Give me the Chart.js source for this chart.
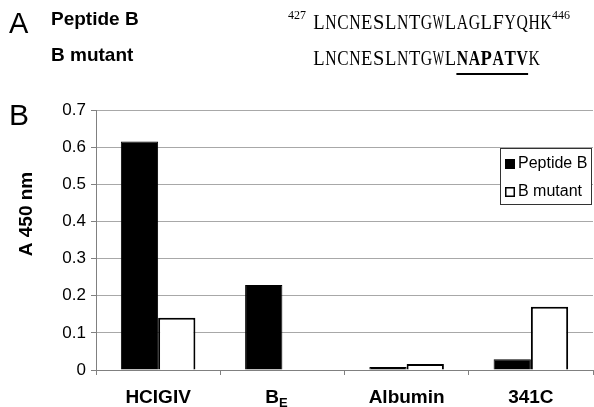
<!DOCTYPE html>
<html>
<head>
<meta charset="utf-8">
<script src="https://cdn.jsdelivr.net/npm/chart.js@4/dist/chart.umd.min.js"></script>
<style>
  html, body { margin: 0; padding: 0; background: #fff; }
  #wrap { width: 594px; height: 407px; position: relative; }
</style>
</head>
<body>
<div id="wrap"><canvas id="c" width="594" height="407"></canvas></div>
<script>
// ELISA absorbance at 450 nm for each serum / antibody
const categories = ['HCIGIV', 'B|E', 'Albumin', '341C'];
const seriesNames = ['Peptide B', 'B mutant'];
const peptideB = [0.615, 0.229, 0.008, 0.029];
const bMutant = [0.141, 0, 0.016, 0.170];
const yTicks = [0, 0.1, 0.2, 0.3, 0.4, 0.5, 0.6, 0.7];
const yTitle = 'A 450 nm';

// Panel A sequence text
const seqStart = '427';
const seqEnd = '446';
const seqWild = 'LNCNESLNTGWLAGLFYQHK';
const seqMutPrefix = 'LNCNESLNTGWL';
const seqMutCore = 'NAPATV';
const seqMutSuffix = 'K';

const SANS = '"Liberation Sans", Arial, sans-serif';
const SERIF = '"Liberation Serif", "DejaVu Serif", serif';
const CELL = 11.95; // fixed advance per residue letter

// Draws a string as fixed-width serif type, squeezing wide glyphs into their cell
function drawFixed(ctx, text, x, y, font) {
  ctx.save();
  ctx.font = font;
  ctx.textAlign = 'center';
  ctx.textBaseline = 'alphabetic';
  for (let i = 0; i < text.length; i++) {
    const ch = text[i];
    const w = ctx.measureText(ch).width;
    const maxW = CELL - 0.6;
    const sx = w > maxW ? maxW / w : 1;
    ctx.save();
    ctx.translate(x + CELL * (i + 0.5), y);
    ctx.scale(sx, 1);
    ctx.fillText(ch, 0, 0);
    ctx.restore();
  }
  ctx.restore();
  return text.length * CELL;
}

const panelText = {
  id: 'panelText',
  afterDraw(chart) {
    const ctx = chart.ctx;
    ctx.save();
    ctx.fillStyle = '#000';
    ctx.textBaseline = 'alphabetic';
    ctx.textAlign = 'left';

    // Panel letters
    ctx.font = '29px ' + SANS;
    ctx.fillText('A', 9, 33);
    ctx.font = '30px ' + SANS;
    ctx.fillText('B', 9, 125);

    // Row labels
    ctx.font = 'bold 19px ' + SANS;
    ctx.fillText(seriesNames[0], 51, 25);
    ctx.fillText(seriesNames[1], 51, 61);

    // Sequences
    const x0 = 313;
    const reg = '21px ' + SERIF;
    const bold = 'bold 21px ' + SERIF;
    const wWild = drawFixed(ctx, seqWild, x0, 29, reg);
    const wPre = drawFixed(ctx, seqMutPrefix, x0, 65, reg);
    const wCore = drawFixed(ctx, seqMutCore, x0 + wPre, 65, bold);
    drawFixed(ctx, seqMutSuffix, x0 + wPre + wCore, 65, reg);
    ctx.font = '12px ' + SERIF;
    ctx.textAlign = 'left';
    ctx.fillText(seqStart, 288, 19);
    ctx.fillText(seqEnd, x0 + wWild, 19);

    // Underline of mutated residues
    ctx.fillRect(x0 + wPre, 73, wCore, 2);

    // Y axis title
    ctx.save();
    ctx.translate(27, 214);
    ctx.rotate(-Math.PI / 2);
    ctx.textAlign = 'center';
    ctx.textBaseline = 'middle';
    ctx.font = 'bold 19px ' + SANS;
    ctx.fillText(yTitle, 0, 0);
    ctx.restore();

    // Category labels (a "|" marks a subscript)
    const xs = chart.scales.x;
    categories.forEach((lab, i) => {
      const cx = xs.getPixelForValue(i);
      const parts = lab.split('|');
      ctx.font = 'bold 19px ' + SANS;
      const w0 = ctx.measureText(parts[0]).width;
      let w1 = 0;
      if (parts[1]) {
        ctx.font = 'bold 13px ' + SANS;
        w1 = ctx.measureText(parts[1]).width;
      }
      const shift = parts[1] ? -6 : 0;
      const left = cx - (w0 + w1) / 2 + shift;
      ctx.textAlign = 'left';
      ctx.textBaseline = 'alphabetic';
      ctx.font = 'bold 19px ' + SANS;
      ctx.fillText(parts[0], left, 403);
      if (parts[1]) {
        ctx.font = 'bold 13px ' + SANS;
        ctx.fillText(parts[1], left + w0, 407);
      }
    });

    // Legend box
    const lx = 500, ly = 148, lw = 92, lh = 57;
    ctx.fillStyle = '#fff';
    ctx.fillRect(lx, ly, lw, lh);
    ctx.strokeStyle = '#333';
    ctx.lineWidth = 1;
    ctx.strokeRect(lx + 0.5, ly + 0.5, lw - 1, lh - 1);
    chart.data.datasets.forEach((ds, i) => {
      const my = ly + 11 + i * 28;
      ctx.fillStyle = ds.backgroundColor;
      ctx.fillRect(lx + 5, my, 10, 10);
      ctx.strokeStyle = '#000';
      ctx.lineWidth = 1.5;
      ctx.strokeRect(lx + 5.75, my + 0.75, 8.5, 8.5);
      ctx.fillStyle = '#000';
      ctx.font = '16px ' + SANS;
      ctx.textAlign = 'left';
      ctx.textBaseline = 'middle';
      ctx.fillText(ds.label, lx + 18, my + 5);
    });

    ctx.restore();
  }
};

new Chart(document.getElementById('c'), {
  type: 'bar',
  data: {
    labels: categories,
    datasets: [
      { label: seriesNames[0], data: peptideB, backgroundColor: '#000', borderColor: '#000', borderWidth: 1 },
      { label: seriesNames[1], data: bMutant, backgroundColor: '#fff', borderColor: '#000', borderWidth: 2 }
    ]
  },
  options: {
    responsive: false,
    animation: false,
    devicePixelRatio: 1,
    layout: { padding: { top: 110, left: 0, right: 1, bottom: 0 } },
    plugins: { legend: { display: false }, tooltip: { enabled: false } },
    datasets: { bar: { categoryPercentage: 0.6, barPercentage: 1.0, borderSkipped: 'start' } },
    scales: {
      x: {
        grid: { display: true, drawOnChartArea: false, drawTicks: true, tickLength: 5, color: '#808080', offset: true },
        border: { color: '#808080', width: 1 },
        ticks: { color: 'rgba(0,0,0,0)', font: { size: 19, family: SANS } },
        afterFit(s) { s.height = 37; }
      },
      y: {
        min: 0, max: 0.7,
        afterBuildTicks(s) { s.ticks = yTicks.map(v => ({ value: v })); },
        grid: { color: '#a8a8a8', borderDash: [2, 1], tickLength: 5, tickColor: '#808080', tickBorderDash: [] },
        border: { color: '#808080', width: 1 },
        ticks: {
          color: '#000', padding: 5,
          font: { size: 17, family: SANS },
          callback: v => String(Math.round(v * 10) / 10)
        },
        afterFit(s) { s.width = 96; }
      }
    }
  },
  plugins: [panelText]
});
</script>
</body>
</html>
